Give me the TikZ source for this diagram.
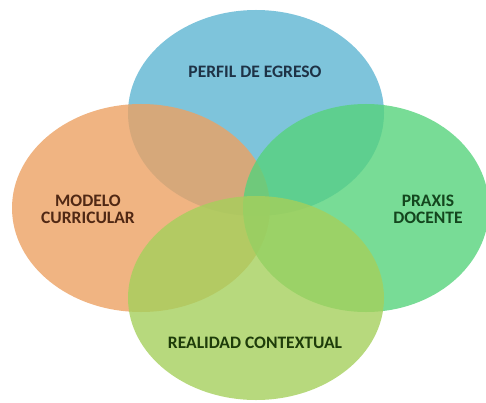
\documentclass[tikz,border=0pt]{standalone}
\usepackage{fontspec}
\setmainfont{Carlito}
\definecolor{cblue}{RGB}{94,181,210}
\definecolor{corange}{RGB}{236,161,99}
\definecolor{cgreen}{RGB}{86,211,124}
\definecolor{clime}{RGB}{165,208,92}
\definecolor{tblue}{RGB}{30,50,70}
\definecolor{torange}{RGB}{80,40,20}
\definecolor{tgreen}{RGB}{20,70,30}
\definecolor{tlime}{RGB}{30,60,10}
\tikzset{
  lbl/.style={font=\bfseries\fontsize{17.5}{17}\selectfont, align=center}
}
\begin{document}
\begin{tikzpicture}[x=1pt,y=1pt]
\useasboundingbox (0,0) rectangle (486,402);
\fill[cblue, fill opacity=0.8] (256,289) ellipse [x radius=128, y radius=103];
\fill[corange, fill opacity=0.8] (141,194) ellipse [x radius=129, y radius=104];
\fill[cgreen, fill opacity=0.8] (366,194) ellipse [x radius=123, y radius=104];
\fill[clime, fill opacity=0.8] (256,104) ellipse [x radius=128, y radius=102];
\node[lbl, text=tblue] (perfil) at (255,330) {PERFIL DE EGRESO};
\node[lbl, text=torange] (modelo) at (88,193) {MODELO\\CURRICULAR};
\node[lbl, text=tgreen] (praxis) at (428,193) {PRAXIS\\DOCENTE};
\node[lbl, text=tlime] (realidad) at (255,59) {REALIDAD CONTEXTUAL};
\end{tikzpicture}
\end{document}
